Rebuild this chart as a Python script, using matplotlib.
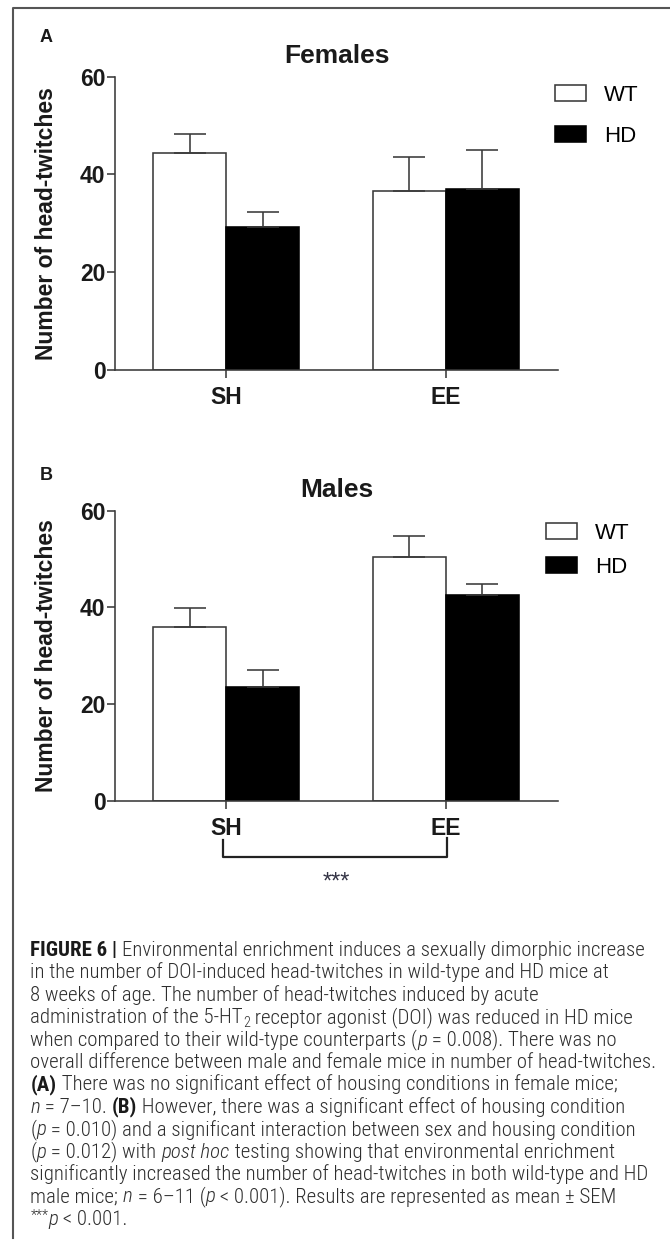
import matplotlib
matplotlib.use("Agg")
import matplotlib.pyplot as plt
from matplotlib import font_manager
from matplotlib.lines import Line2D
import matplotlib.transforms as mtransforms
import numpy as np

# ---------------- data ----------------
groups = ["SH", "EE"]
series_labels = ["WT", "HD"]
yticks = [0, 20, 40, 60]

females_wt = [44.3, 36.7]
females_wt_sem = [3.9, 6.8]
females_hd = [29.3, 37.1]
females_hd_sem = [3.1, 7.9]

males_wt = [35.9, 50.5]
males_wt_sem = [4.0, 4.3]
males_hd = [23.5, 42.6]
males_hd_sem = [3.5, 2.2]

caption_lines = [
    [("FIGURE 6 | ", "b"), ("Environmental enrichment induces a sexually dimorphic increase", "r")],
    [("in the number of DOI-induced head-twitches in wild-type and HD mice at", "r")],
    [("8 weeks of age. The number of head-twitches induced by acute", "r")],
    [("administration of the 5-HT", "r"), ("2", "sub"), (" receptor agonist (DOI) was reduced in HD mice", "r")],
    [("when compared to their wild-type counterparts (", "r"), ("p", "i"), (" = 0.008). There was no", "r")],
    [("overall difference between male and female mice in number of head-twitches.", "r")],
    [("(A)", "b"), (" There was no significant effect of housing conditions in female mice;", "r")],
    [("n", "i"), (" = 7\u201310. ", "r"), ("(B)", "b"), (" However, there was a significant effect of housing condition", "r")],
    [("(", "r"), ("p", "i"), (" = 0.010) and a significant interaction between sex and housing condition", "r")],
    [("(", "r"), ("p", "i"), (" = 0.012) with ", "r"), ("post hoc", "i"), (" testing showing that environmental enrichment", "r")],
    [("significantly increased the number of head-twitches in both wild-type and HD", "r")],
    [("male mice; ", "r"), ("n", "i"), (" = 6\u201311 (", "r"), ("p", "i"), (" < 0.001). Results are represented as mean \u00b1 SEM", "r")],
    [("***", "sup"), ("p", "i"), (" < 0.001.", "r")],
]

# ---------------- setup ----------------
W, H = 670, 1248
plt.rcParams["font.family"] = ["Liberation Sans", "DejaVu Sans"]
fig = plt.figure(figsize=(W / 100, H / 100), dpi=100)
fig.patch.set_facecolor("white")

EDGE = "#3a3a3a"
LW = 1.15


def fx(px):
    return px / W


def fy(py):
    return 1 - py / H


def panel(rect, title, wt, wt_err, hd, hd_err, leg_xy, leg_spacing):
    left, top, right, bottom = rect
    ax = fig.add_axes([fx(left), fy(bottom), (right - left) / W, (bottom - top) / H])
    x = np.arange(len(groups))
    w = 0.332
    b1 = ax.bar(x - w / 2, wt, w, color="white", edgecolor=EDGE, linewidth=LW,
                label=series_labels[0], zorder=2)
    b2 = ax.bar(x + w / 2, hd, w, color="black", edgecolor="black", linewidth=LW,
                label=series_labels[1], zorder=2)
    zeros = np.zeros(len(groups))
    ax.errorbar(x - w / 2, wt, yerr=[zeros, wt_err], fmt="none", ecolor=EDGE,
                elinewidth=LW, capsize=11.5, capthick=LW, zorder=3)
    ax.errorbar(x + w / 2, hd, yerr=[zeros, hd_err], fmt="none", ecolor=EDGE,
                elinewidth=LW, capsize=11.5, capthick=LW, zorder=3)
    ax.set_xlim(-0.505, 1.51)
    ax.set_ylim(0, 60)
    ax.set_yticks(yticks)
    ax.set_xticks(x)
    ax.set_xticklabels(groups)
    for s in ["top", "right"]:
        ax.spines[s].set_visible(False)
    for s in ["left", "bottom"]:
        ax.spines[s].set_color(EDGE)
        ax.spines[s].set_linewidth(LW)
    ax.tick_params(axis="both", length=5.8, width=LW, color=EDGE, labelsize=16.5,
                   labelcolor="#1a1a1a")
    ax.tick_params(axis="y", pad=1)
    ax.tick_params(axis="x", pad=6)
    for lbl in ax.get_xticklabels() + ax.get_yticklabels():
        lbl.set_fontweight("bold")
    ax.set_ylabel("Number of head-twitches", fontsize=16.5, fontweight="bold", color="#1a1a1a")
    ax.yaxis.label.set_va("center")
    ax.yaxis.set_label_coords((47 - left) / (right - left), 0.5)
    ax.set_title(title, fontsize=19, fontweight="bold", color="#1a1a1a",
                 y=(bottom - (top - 21)) / (bottom - top), va="center", pad=0)
    ax.legend(handles=[b1, b2], loc="upper left",
              bbox_to_anchor=(fx(leg_xy[0]), fy(leg_xy[1])), bbox_transform=fig.transFigure,
              frameon=False, fontsize=16, handlelength=1.4, handleheight=0.75,
              handletextpad=0.8, labelspacing=leg_spacing, borderpad=0, borderaxespad=0)
    ax.set_facecolor("none")
    return ax


axA = panel((115, 76.7, 558, 370), "Females", females_wt, females_wt_sem,
            females_hd, females_hd_sem, (555, 85), 0.89)
axB = panel((115, 510.7, 558, 800.7), "Males", males_wt, males_wt_sem,
            males_hd, males_hd_sem, (546, 523), 0.57)

fig.text(fx(40), fy(37), "A", fontsize=13, fontweight="bold", va="center", ha="left", color="#1a1a1a")
fig.text(fx(40), fy(475), "B", fontsize=13, fontweight="bold", va="center", ha="left", color="#1a1a1a")

# significance bracket under panel B (x in data coords of axB, y in figure pixels)
btr = mtransforms.blended_transform_factory(axB.transData, fig.transFigure)
xl, xr = -0.015, 1.005
axB.add_line(Line2D([xl, xl, xr, xr], [fy(840), fy(857), fy(857), fy(838)], transform=btr,
                    color="#222222", lw=1.6, clip_on=False))
axB.text(0.5, fy(889), "***", transform=btr, ha="center", va="baseline", fontsize=17,
         color="#333344", clip_on=False)

# frame lines
fig.add_artist(Line2D([fx(13), fx(13), fx(670)], [fy(1238), fy(8), fy(8)],
                      transform=fig.transFigure, color="#555555", lw=1.5))

# ---------------- caption ----------------
avail = {f.name for f in font_manager.fontManager.ttflist}
cap_family = "Liberation Sans"
for cand in ["Liberation Sans Narrow", "Roboto Condensed", "Open Sans Condensed"]:
    if cand in avail:
        cap_family = cand
        break
renderer = fig.canvas.get_renderer()


def props(kind, size):
    p = {"family": [cap_family, "DejaVu Sans"], "fontsize": size, "color": "#2e2e2e",
         "fontweight": "light"}
    if kind == "b":
        p["fontweight"] = "bold"
        p["color"] = "#1a1a1a"
    elif kind == "i":
        p["fontstyle"] = "italic"
    elif kind in ("sub", "sup"):
        p["fontsize"] = size * 0.68
    return p


def twidth(s, kind, size):
    pr = props(kind, size)
    t1 = fig.text(0, 0, "|" + s + "|", **pr)
    w1 = t1.get_window_extent(renderer).width
    t1.remove()
    t2 = fig.text(0, 0, "||", **pr)
    w2 = t2.get_window_extent(renderer).width
    t2.remove()
    return w1 - w2


def line_width(segs, size):
    return sum(twidth(s, k, size) for s, k in segs)


target = 615.0
ref = line_width(caption_lines[0], 10)
cap_size = 10 * target / ref

x0 = 30.5
base0 = 956
step = 22.4
for i, segs in enumerate(caption_lines):
    xc = x0
    yb = base0 + i * step
    for s, k in segs:
        pr = props(k, cap_size)
        yy = yb
        if k == "sub":
            yy = yb + 4
        elif k == "sup":
            yy = yb - 6
        fig.text(fx(xc), fy(yy), s, ha="left", va="baseline", **pr)
        xc += twidth(s, k, cap_size)

fig.savefig("out.png", dpi=100, facecolor="white")
